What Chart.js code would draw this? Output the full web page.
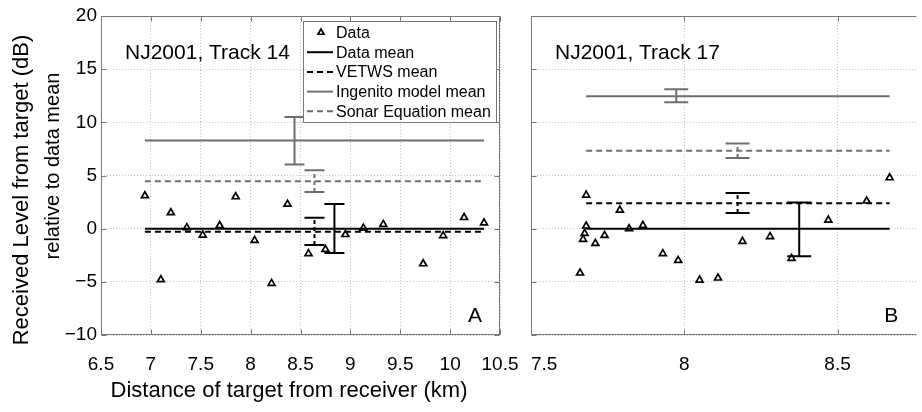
<!DOCTYPE html>
<html>
<head>
<meta charset="utf-8">
<script src="https://cdn.jsdelivr.net/npm/chart.js@4.4.1/dist/chart.umd.min.js"></script>
<style>
  html, body { margin: 0; padding: 0; background: #fff; overflow: hidden; }
  #wrap { position: relative; width: 922px; height: 412px; }
  canvas { position: absolute; top: 0; }
  #left { left: 0; }
  #right { left: 521px; }
</style>
</head>
<body>
<div id="wrap">
  <canvas id="left" width="521" height="412"></canvas>
  <canvas id="right" width="401" height="412"></canvas>
</div>
<script>
const FONT = '"Liberation Sans", Arial, Helvetica, sans-serif';
const GRAY = '#6e6e6e';

// ---- Panel A: NJ2001, Track 14 ----
const xA = [6.94, 7.10, 7.20, 7.36, 7.52, 7.69, 7.85, 8.04, 8.21, 8.37, 8.58, 8.75, 8.95, 9.13, 9.33, 9.73, 9.93, 10.14, 10.34];
const yA = [3.1, -4.8, 1.5, 0.1, -0.6, 0.3, 3.0, -1.1, -5.15, 2.3, -2.35, -1.95, -0.55, 0.05, 0.4, -3.3, -0.65, 1.05, 0.55];
const spanA = [6.94, 10.34];
// order: data mean, VETWS, Ingenito, Sonar Equation
const meansA = [0, -0.28, 8.3, 4.45];
const errXA = [8.84, 8.64, 8.44, 8.64];
const errLoA = [-2.29, -1.54, 6.04, 3.44];
const errHiA = [2.31, 1.03, 10.5, 5.5];
const xTicksA = [6.5, 7, 7.5, 8, 8.5, 9, 9.5, 10, 10.5];

// ---- Panel B: NJ2001, Track 17 ----
const xB = [7.66, 7.67, 7.675, 7.68, 7.68, 7.71, 7.74, 7.79, 7.82, 7.865, 7.93, 7.98, 8.05, 8.11, 8.19, 8.28, 8.35, 8.47, 8.595, 8.67];
const yB = [-4.17, -1.0, -0.44, 0.25, 3.16, -1.38, -0.63, 1.75, 0, 0.31, -2.35, -2.98, -4.83, -4.64, -1.19, -0.75, -2.79, 0.81, 2.6, 4.79];
const spanB = [7.68, 8.67];
const meansB = [0, 2.38, 12.46, 7.33];
const errXB = [8.375, 8.174, 7.974, 8.174];
const errLoB = [-2.6, 1.47, 11.9, 6.64];
const errHiB = [2.45, 3.35, 13.1, 8.02];
const xTicksB = [7.5, 8, 8.5];

const yTicks = [-10, -5, 0, 5, 10, 15, 20];

const legendLabels = ['Data', 'Data mean', 'VETWS mean', 'Ingenito model mean', 'Sonar Equation mean'];
const meanStyles = [
  { color: '#000', dash: [] },
  { color: '#000', dash: [6, 4] },
  { color: GRAY, dash: [] },
  { color: GRAY, dash: [6, 4] }
];

function buildDatasets(xs, ys, means, span) {
  const sets = [{
    label: legendLabels[0],
    data: xs.map((x, i) => ({ x: x, y: ys[i] })),
    showLine: false,
    pointStyle: 'triangle',
    pointRadius: 4,
    pointBorderWidth: 1.7,
    borderColor: '#000',
    backgroundColor: 'rgba(255,255,255,0)',
    order: 0
  }];
  means.forEach((m, i) => {
    sets.push({
      label: legendLabels[i + 1],
      data: [{ x: span[0], y: m }, { x: span[1], y: m }],
      showLine: true,
      pointRadius: 0,
      borderColor: meanStyles[i].color,
      borderDash: meanStyles[i].dash,
      borderWidth: 2,
      order: 1
    });
  });
  return sets;
}

function errorBarPlugin(errX, errLo, errHi, cap) {
  return {
    id: 'errorBars',
    afterDatasetsDraw(chart) {
      const { ctx, scales: { x, y } } = chart;
      errX.forEach((xv, i) => {
        const st = meanStyles[i];
        const px = x.getPixelForValue(xv);
        const lo = y.getPixelForValue(errLo[i]);
        const hi = y.getPixelForValue(errHi[i]);
        ctx.save();
        ctx.strokeStyle = st.color;
        ctx.lineWidth = 2;
        ctx.setLineDash(st.dash.length ? [4, 3] : []);
        ctx.beginPath();
        ctx.moveTo(px, lo);
        ctx.lineTo(px, hi);
        ctx.stroke();
        ctx.setLineDash([]);
        ctx.beginPath();
        ctx.moveTo(px - cap, lo); ctx.lineTo(px + cap, lo);
        ctx.moveTo(px - cap, hi); ctx.lineTo(px + cap, hi);
        ctx.stroke();
        ctx.restore();
      });
    }
  };
}

function framePlugin(opt) {
  return {
    id: 'frame',
    afterDraw(chart) {
      const { ctx, chartArea: a, scales: { x, y } } = chart;
      ctx.save();
      ctx.strokeStyle = '#777';
      ctx.lineWidth = 1;
      ctx.beginPath();
      const L = Math.round(a.left) + 0.5, R = Math.round(a.right) - 0.5;
      const T = Math.round(a.top) + 0.5, B = Math.round(a.bottom) - 0.5;
      ctx.moveTo(L, T); ctx.lineTo(L, B);
      ctx.moveTo(L, T); ctx.lineTo(a.right, T);
      ctx.moveTo(L, B); ctx.lineTo(a.right, B);
      if (opt.rightSide) { ctx.moveTo(R, T); ctx.lineTo(R, B); }
      opt.xTicks.forEach(v => {
        const p = Math.round(x.getPixelForValue(v)) + 0.5;
        ctx.moveTo(p, B); ctx.lineTo(p, B - 5);
        ctx.moveTo(p, T); ctx.lineTo(p, T + 5);
      });
      yTicks.forEach(v => {
        const p = Math.round(y.getPixelForValue(v)) + 0.5;
        ctx.moveTo(L, p); ctx.lineTo(L + 5, p);
        if (opt.rightSide) { ctx.moveTo(R, p); ctx.lineTo(R - 5, p); }
      });
      ctx.stroke();

      ctx.fillStyle = '#000';
      ctx.font = '21px ' + FONT;
      ctx.textBaseline = 'alphabetic';
      ctx.textAlign = 'left';
      ctx.fillText(opt.title, a.left + 24, a.top + 43);
      ctx.textAlign = 'right';
      ctx.fillText(opt.letter, a.right - 18, a.bottom - 13);

      if (opt.xTitle) {
        ctx.textAlign = 'center';
        ctx.font = '22px ' + FONT;
        ctx.fillText(opt.xTitle, a.left + 188, 397);
      }
      if (opt.yTitle) {
        ctx.textAlign = 'center';
        ctx.textBaseline = 'middle';
        ctx.translate(22, 190);
        ctx.rotate(-Math.PI / 2);
        ctx.font = '22px ' + FONT;
        ctx.fillText(opt.yTitle[0], 0, 0);
        ctx.font = '20px ' + FONT;
        ctx.fillText(opt.yTitle[1], 24, 31);
      }
      ctx.restore();
    }
  };
}

const legendPlugin = {
  id: 'boxLegend',
  afterDraw(chart) {
    const { ctx, chartArea: a } = chart;
    const bx = a.right - 197, by = a.top + 5, bw = 193, bh = 101;
    ctx.save();
    ctx.fillStyle = '#fff';
    ctx.fillRect(bx, by, bw, bh);
    ctx.strokeStyle = '#777';
    ctx.lineWidth = 1;
    ctx.strokeRect(Math.round(bx) + 0.5, Math.round(by) + 0.5, bw, bh);
    ctx.font = '16px ' + FONT;
    ctx.textBaseline = 'middle';
    ctx.textAlign = 'left';
    chart.data.datasets.forEach((ds, i) => {
      const cy = by + 11.5 + i * 19.7;
      if (i === 0) {
        const cx = bx + 18, r = 3.5;
        ctx.beginPath();
        ctx.moveTo(cx, cy - r);
        ctx.lineTo(cx + r * 0.87, cy + r * 0.5);
        ctx.lineTo(cx - r * 0.87, cy + r * 0.5);
        ctx.closePath();
        ctx.lineWidth = 1.7;
        ctx.strokeStyle = '#000';
        ctx.stroke();
      } else {
        ctx.beginPath();
        ctx.strokeStyle = ds.borderColor;
        ctx.lineWidth = 2;
        ctx.setLineDash(ds.borderDash);
        ctx.moveTo(bx + 4, cy);
        ctx.lineTo(bx + 30, cy);
        ctx.stroke();
        ctx.setLineDash([]);
      }
      ctx.fillStyle = '#000';
      ctx.fillText(ds.label, bx + 33, cy + 1);
    });
    ctx.restore();
  }
};

function makeChart(id, opt) {
  const axisFont = { family: FONT, size: 19 };
  const hideEdge = c => (c.tick && c.tick.label === '' ? 'rgba(0,0,0,0)' : '#c4c4c4');
  const border = { display: false, dash: [1, 2] };
  return new Chart(document.getElementById(id), {
    type: 'scatter',
    data: { datasets: buildDatasets(opt.xs, opt.ys, opt.means, opt.span) },
    options: {
      responsive: false,
      animation: false,
      layout: { padding: { top: 16, right: opt.padRight, left: 0, bottom: 0 } },
      plugins: { legend: { display: false }, tooltip: { enabled: false } },
      scales: {
        x: {
          type: 'linear',
          min: opt.xMin,
          max: opt.xMax,
          afterBuildTicks: s => {
            s.ticks = opt.xTicks.map(v => ({ value: v }));
            // blank end tick so the first label can sit inside the panel
            if (opt.innerLabels) s.ticks.push({ value: opt.xMax });
          },
          ticks: {
            color: '#000', font: axisFont, padding: 18, maxRotation: 0, autoSkip: false,
            align: opt.innerLabels ? 'inner' : 'center',
            callback: v => (opt.xTicks.includes(v) ? String(v) : '')
          },
          grid: { color: hideEdge, lineWidth: 1, drawTicks: false },
          border: border,
          afterFit: s => { s.height = 77; s.paddingLeft = 0; s.paddingRight = 0; }
        },
        y: {
          type: 'linear',
          min: -10,
          max: 20,
          afterBuildTicks: s => { s.ticks = yTicks.map(v => ({ value: v })); },
          ticks: {
            display: opt.yLabels, color: '#000', font: axisFont, padding: 4,
            callback: v => String(v).replace('-', '\u2212')
          },
          grid: { color: '#c4c4c4', lineWidth: 1, drawTicks: false },
          border: border,
          afterFit: s => { s.width = opt.yWidth; s.paddingTop = 0; s.paddingBottom = 0; }
        }
      }
    },
    plugins: [
      errorBarPlugin(opt.errX, opt.errLo, opt.errHi, opt.cap),
      framePlugin(opt),
      ...(opt.legend ? [legendPlugin] : [])
    ]
  });
}

makeChart('left', {
  xs: xA, ys: yA, means: meansA, span: spanA,
  errX: errXA, errLo: errLoA, errHi: errHiA, cap: 10,
  xMin: 6.5, xMax: 10.5, xTicks: xTicksA, innerLabels: false,
  xTitle: 'Distance of target from receiver (km)',
  yTitle: ['Received Level from target (dB)', 'relative to data mean'],
  yLabels: true, yWidth: 101, padRight: 21,
  title: 'NJ2001, Track 14', letter: 'A', rightSide: true, legend: true
});

makeChart('right', {
  xs: xB, ys: yB, means: meansB, span: spanB,
  errX: errXB, errLo: errLoB, errHi: errHiB, cap: 12,
  xMin: 7.5, xMax: 8.757, xTicks: xTicksB, innerLabels: true,
  xTitle: null, yTitle: null,
  yLabels: false, yWidth: 10, padRight: 0,
  title: 'NJ2001, Track 17', letter: 'B', rightSide: false, legend: false
});
</script>
</body>
</html>
